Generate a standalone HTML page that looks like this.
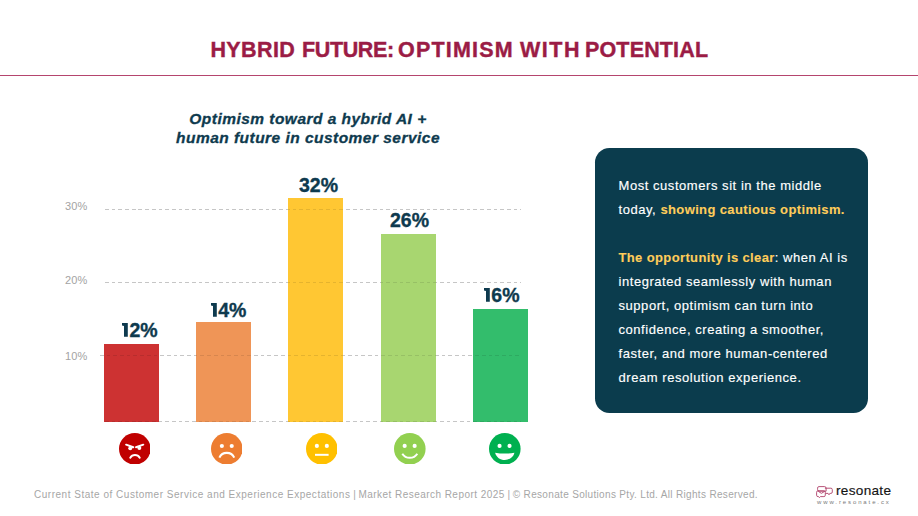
<!DOCTYPE html>
<html>
<head>
<meta charset="utf-8">
<style>
html,body{margin:0;padding:0;}
body{width:918px;height:516px;position:relative;overflow:hidden;background:#fff;font-family:"Liberation Sans",sans-serif;}
.abs{position:absolute;white-space:nowrap;}
.tw{top:34.5px;font-weight:bold;font-size:21.5px;letter-spacing:0.4px;line-height:30px;color:#9b1c45;-webkit-text-stroke:0.4px #9b1c45;}
#rule{left:0;top:74.5px;width:918px;height:1.3px;background:#b5456e;}
#sub{left:108px;width:400px;top:110.3px;text-align:center;font-weight:bold;font-style:italic;font-size:15.5px;letter-spacing:0.47px;line-height:18.75px;color:#0e3a4e;-webkit-text-stroke:0.3px #0e3a4e;}
.grid{position:absolute;left:104.8px;width:416.6px;height:1.2px;background:repeating-linear-gradient(to right,#dcdcdc 0 3.7px,transparent 3.7px 6.7px);}
.gridtop{position:absolute;left:104.8px;width:416.6px;height:1.2px;background:repeating-linear-gradient(to right,rgba(0,0,0,0.1) 0 3.7px,transparent 3.7px 6.7px);}
.ylab{position:absolute;right:830.6px;letter-spacing:0.15px;font-size:11px;line-height:12px;color:#a3a3a3;}
.bar{position:absolute;width:55px;bottom:94.5px;}
.val{position:absolute;font-weight:bold;font-size:19.5px;line-height:20px;color:#0e3a4e;-webkit-text-stroke:0.35px #0e3a4e;}
.one{vertical-align:baseline;margin-right:1.4px;}
.emo{position:absolute;top:432.8px;width:31.6px;height:31.6px;}
#box{left:595px;top:148px;width:273px;height:265px;border-radius:14.5px;background:#0b3c4d;}
#boxtext{left:618.5px;top:174px;font-size:13px;letter-spacing:0.55px;line-height:24px;color:#fff;-webkit-text-stroke:0.15px #fff;}
#boxtext b{color:#ffcd5a;letter-spacing:0.37px;-webkit-text-stroke:0.1px #ffcd5a;}
.foot{top:488px;font-size:10px;letter-spacing:0.42px;line-height:14px;color:#a6a6a6;}
</style>
</head>
<body>
<div class="abs tw" style="left:210.4px;">HYBRID</div>
<div class="abs tw" style="left:302.1px;letter-spacing:-0.4px;">FUTURE:</div>
<div class="abs tw" style="left:398.1px;letter-spacing:1.17px;">OPTIMISM</div>
<div class="abs tw" style="left:520px;letter-spacing:1.53px;">WITH</div>
<div class="abs tw" style="left:585px;letter-spacing:0.15px;">POTENTIAL</div>
<div class="abs" id="rule"></div>
<div class="abs" id="sub">Optimism toward a hybrid AI +<br>human future in customer service</div>

<!-- chart -->
<div class="grid" style="top:208.85px;"></div>
<div class="grid" style="top:281.6px;"></div>
<div class="grid" style="top:355.1px;left:99.8px;width:421.6px;"></div>
<div class="grid" style="top:421.3px;"></div>
<div class="bar" style="left:104px;top:344px;background:#cd3232;"></div>
<div class="bar" style="left:196px;top:321.5px;background:#ef9557;"></div>
<div class="bar" style="left:288px;top:198px;background:#ffc733;"></div>
<div class="bar" style="left:380.5px;top:234.2px;background:#a8d670;"></div>
<div class="bar" style="left:472.5px;top:309.4px;background:#33bd6c;"></div>


<div class="gridtop" style="top:208.85px;"></div>
<div class="gridtop" style="top:281.6px;"></div>
<div class="gridtop" style="top:355.1px;left:99.8px;width:421.6px;"></div>
<div class="gridtop" style="top:421.3px;"></div>
<div class="ylab" style="top:200px;">30%</div>
<div class="ylab" style="top:274px;">20%</div>
<div class="ylab" style="top:349.6px;">10%</div>

<div class="val" style="left:122.3px;top:319.5px;"><svg class="one" width="5.8" height="13.8" viewBox="0 0 5.8 13.8"><path d="M0 0 H5.8 V13.8 H2 V3 L0 2.6 Z" fill="#0e3a4e"/></svg>2%</div>
<div class="val" style="left:211px;top:299.5px;"><svg class="one" width="5.8" height="13.8" viewBox="0 0 5.8 13.8"><path d="M0 0 H5.8 V13.8 H2 V3 L0 2.6 Z" fill="#0e3a4e"/></svg>4%</div>
<div class="val" style="left:299px;top:174.5px;">32%</div>
<div class="val" style="left:390px;top:209.5px;">26%</div>
<div class="val" style="left:484.1px;top:284.5px;"><svg class="one" width="5.8" height="13.8" viewBox="0 0 5.8 13.8"><path d="M0 0 H5.8 V13.8 H2 V3 L0 2.6 Z" fill="#0e3a4e"/></svg>6%</div>

<!-- emojis -->
<svg class="emo" style="left:118.6px;" viewBox="-16 -16 32 32">
  <circle r="16" fill="#c00000"/>
  <g fill="#fff" stroke="#fff" stroke-linecap="round">
    <path d="M-8.8 -4.2 L-1.5 -1.6" stroke-width="2"/>
    <path d="M8.6 -4.2 L1.2 -1.6" stroke-width="2"/>
    <circle cx="-4.6" cy="-0.6" r="2" stroke="none"/>
    <circle cx="4.6" cy="-0.8" r="2" stroke="none"/>
    <path d="M-4.6 9 A5.6 5.6 0 0 1 5 9" fill="none" stroke-width="2"/>
  </g>
</svg>
<svg class="emo" style="left:210.8px;" viewBox="-16 -16 32 32">
  <circle r="16" fill="#ed7d31"/>
  <circle cx="-5" cy="-2.8" r="2.1" fill="#fff"/>
  <circle cx="5" cy="-2.8" r="2.1" fill="#fff"/>
  <path d="M-7.5 9 A8.2 8.2 0 0 1 7.5 9" fill="none" stroke="#fff" stroke-width="2.1"/>
</svg>
<svg class="emo" style="left:305.7px;" viewBox="-16 -16 32 32">
  <circle r="16" fill="#ffc000"/>
  <circle cx="-5" cy="-2.9" r="2.1" fill="#fff"/>
  <circle cx="5.1" cy="-2.9" r="2.1" fill="#fff"/>
  <path d="M-6.9 6.1 L6.9 6.1" fill="none" stroke="#fff" stroke-width="2"/>
</svg>
<svg class="emo" style="left:394.3px;" viewBox="-16 -16 32 32">
  <circle r="16" fill="#92d050"/>
  <circle cx="-5.2" cy="-2.9" r="2.1" fill="#fff"/>
  <circle cx="4.9" cy="-2.9" r="2.1" fill="#fff"/>
  <path d="M-7.6 5 A9 9 0 0 0 7.6 5" fill="none" stroke="#fff" stroke-width="2"/>
</svg>
<svg class="emo" style="left:489.3px;" viewBox="-16 -16 32 32">
  <circle r="16" fill="#00b050"/>
  <circle cx="-5.3" cy="-2.9" r="2.1" fill="#fff"/>
  <circle cx="4.8" cy="-2.9" r="2.1" fill="#fff"/>
  <path d="M-9.8 3.9 Q0 5.6 9.8 3.9 C8.6 8.6 4.6 11.3 0 11.3 C-4.6 11.3 -8.6 8.6 -9.8 3.9 Z" fill="#fff"/>
</svg>

<div class="abs" id="box"></div>
<div class="abs" id="boxtext">Most customers sit in the middle<br>today, <b>showing cautious optimism.</b><br><br><b>The opportunity is clear</b>: when AI is<br>integrated seamlessly with human<br>support, optimism can turn into<br>confidence, creating a smoother,<br>faster, and more human-centered<br>dream resolution experience.</div>

<div class="abs foot" style="left:34px;letter-spacing:0.513px;">Current State of Customer Service and Experience Expectations</div>
<div class="abs foot" style="left:353.3px;">|</div>
<div class="abs foot" style="left:358.5px;letter-spacing:0.455px;">Market Research Report 2025</div>
<div class="abs foot" style="left:507.6px;">|</div>
<div class="abs foot" style="left:512.8px;letter-spacing:0.328px;">© Resonate Solutions Pty. Ltd. All Rights Reserved.</div>

<svg class="abs" style="left:812px;top:482px;" width="28" height="20" viewBox="0 0 28 20">
  <g fill="none" stroke="#b0426a" stroke-width="0.9" stroke-linejoin="round">
    <path d="M6.9 4.6 H12.6 Q14.1 4.6 14.1 6.1 V9.2 H7.2 Q5.6 9.2 5.6 7.7 V6.1 Q5.6 4.6 6.9 4.6 Z"/>
    <path d="M6 8.8 H11.9 Q13.3 8.8 13.3 10.3 V13.2 Q13.3 14.6 11.9 14.6 H8.4 L7.4 15.6 L6.6 14.6 H6 Q4.6 14.6 4.6 13.2 V10.3 Q4.6 8.8 6 8.8 Z"/>
    <path d="M12.9 6.2 H18.9 Q20.3 6.2 20.3 7.6 V10 Q20.3 11.4 18.9 11.4 H17.8 L17 12.8 L16.1 11.4 H13.6"/>
    <path d="M6.3 9.4 L9.4 11.3 L12.3 9.6"/>
  </g>
</svg>
<div class="abs" style="left:836px;top:483px;font-size:13.6px;line-height:16px;color:#141414;letter-spacing:0.3px;-webkit-text-stroke:0.15px #141414;">resonate</div>
<div class="abs" style="left:817px;top:498px;font-size:6px;line-height:8px;color:#7a7a7a;letter-spacing:1.89px;">www.resonate.cx</div>

</body>
</html>
